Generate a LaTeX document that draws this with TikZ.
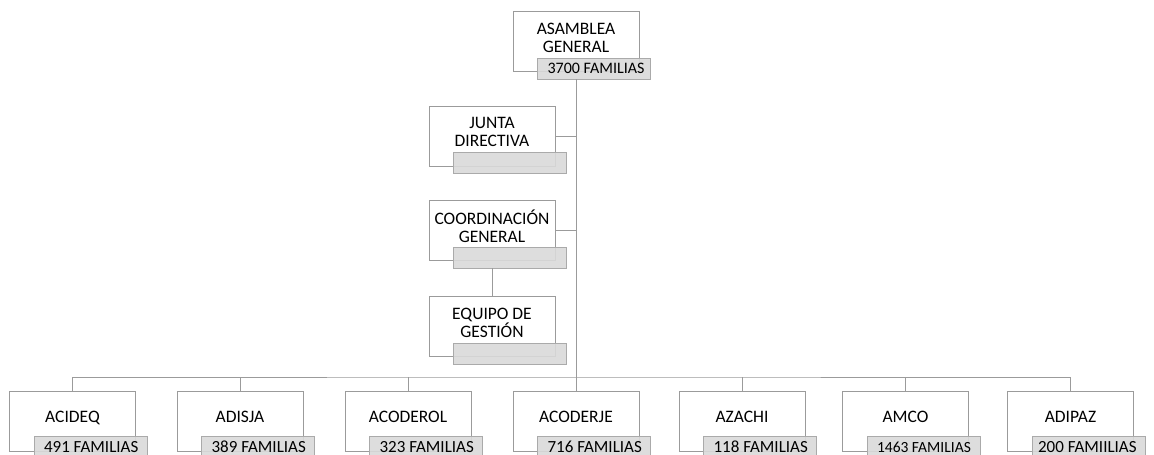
\documentclass[tikz,border=0pt]{standalone}
\usepackage{fontspec}
\setmainfont{Carlito}
\usepackage{tikz}
\usetikzlibrary{positioning}
\usetikzlibrary{calc}
\definecolor{line grey}{RGB}{155,155,155}
\definecolor{tab fill}{RGB}{218,218,218}
\definecolor{tab edge}{RGB}{170,170,170}
% Text of a tab, set flush left with a small gap
\newcommand{\tabtext}[2][10pt]{\makebox[113pt][l]{\hspace*{#1}#2}}
\tikzset{
    % Thin grey line used for every box and link
    org line/.style={draw=line grey, line width=0.9pt},
%
    % White box holding the name of a body, text pushed up a little
    org box/.style={
        org line, fill=white, rectangle,
        minimum width=126pt, minimum height=60pt,
        align=center, font=\fontsize{17.5}{18}\selectfont,
        execute at end node={\rule[-8pt]{0pt}{0pt}}},
%
    % Grey tab under a box with the number of families
    count tab/.style={
        draw=tab edge, fill=tab fill, fill opacity=0.9, text opacity=1,
        rectangle, minimum width=113pt, minimum height=21pt, inner sep=0pt,
        font=\fontsize{16}{18}\selectfont, xshift=81.5pt, yshift=3.5pt},
%
    % The tabs of the bottom row carry a slightly larger text
    low tab/.style={count tab, font=\fontsize{17}{18}\selectfont, yshift=1pt}}

\begin{document}
\begin{tikzpicture}[x=1pt, y=-1pt]

\clip (0,0) rectangle (1154,455);
\path [fill=white] (0,0) rectangle (1154,455);

% Head of the organisation

\node [org box] (asamblea) at (576,41.5) {ASAMBLEA\\GENERAL};
\node [count tab] (asamblea fam) at (asamblea.south west)
    {\tabtext{3700 FAMILIAS}};

\node [org box] (junta) at (492,136) {JUNTA\\DIRECTIVA};
\node [count tab] (junta fam) at (junta.south west) {};

\node [org box] (coord) at (492,230.5) {COORDINACIÓN\\GENERAL};
\node [count tab] (coord fam) at (coord.south west) {};

\node [org box] (equipo) at (492,326.5) {EQUIPO DE\\GESTIÓN};
\node [count tab] (equipo fam) at (equipo.south west) {};

% Member associations

\node [org box] (acideq) at (72.5,421) {ACIDEQ};
\node [low tab] (acideq fam) at (acideq.south west) {\tabtext{491 FAMILIAS}};

\node [org box] (adisja) at (240,421) {ADISJA};
\node [low tab] (adisja fam) at (adisja.south west) {\tabtext{389 FAMILIAS}};

\node [org box] (acoderol) at (408,421) {ACODEROL};
\node [low tab] (acoderol fam) at (acoderol.south west)
    {\tabtext{323 FAMILIAS}};

\node [org box] (acoderje) at (576,421) {ACODERJE};
\node [low tab] (acoderje fam) at (acoderje.south west)
    {\tabtext{716 FAMILIAS}};

\node [org box] (azachi) at (742,421) {AZACHI};
\node [low tab] (azachi fam) at (azachi.south west) {\tabtext{118 FAMILIAS}};

\node [org box] (amco) at (905.5,421) {AMCO};
\node [low tab, font=\fontsize{15.5}{16}\selectfont] (amco fam)
    at (amco.south west) {\tabtext{1463 FAMILIAS}};

\node [org box] (adipaz) at (1070.5,421) {ADIPAZ};
\node [low tab] (adipaz fam) at (adipaz.south west)
    {\tabtext[6pt]{200 FAMIILIAS}};

% Links

\coordinate (bus) at (576,377);

\draw [org line] (asamblea.south |- asamblea fam.south) -- (bus);
\draw [org line] (junta.east) -- (junta.east -| bus);
\draw [org line] (coord.east) -- (coord.east -| bus);
\draw [org line] (coord.south |- coord fam.south) -- (equipo.north);

\draw [org line] (acideq.north) |- (bus) -| (adipaz.north);
\draw [org line] (adisja.north) -- (adisja.north |- bus);
\draw [org line] (acoderol.north) -- (acoderol.north |- bus);
\draw [org line] (acoderje.north) -- (acoderje.north |- bus);
\draw [org line] (azachi.north) -- (azachi.north |- bus);
\draw [org line] (amco.north) -- (amco.north |- bus);

\end{tikzpicture}
\end{document}
